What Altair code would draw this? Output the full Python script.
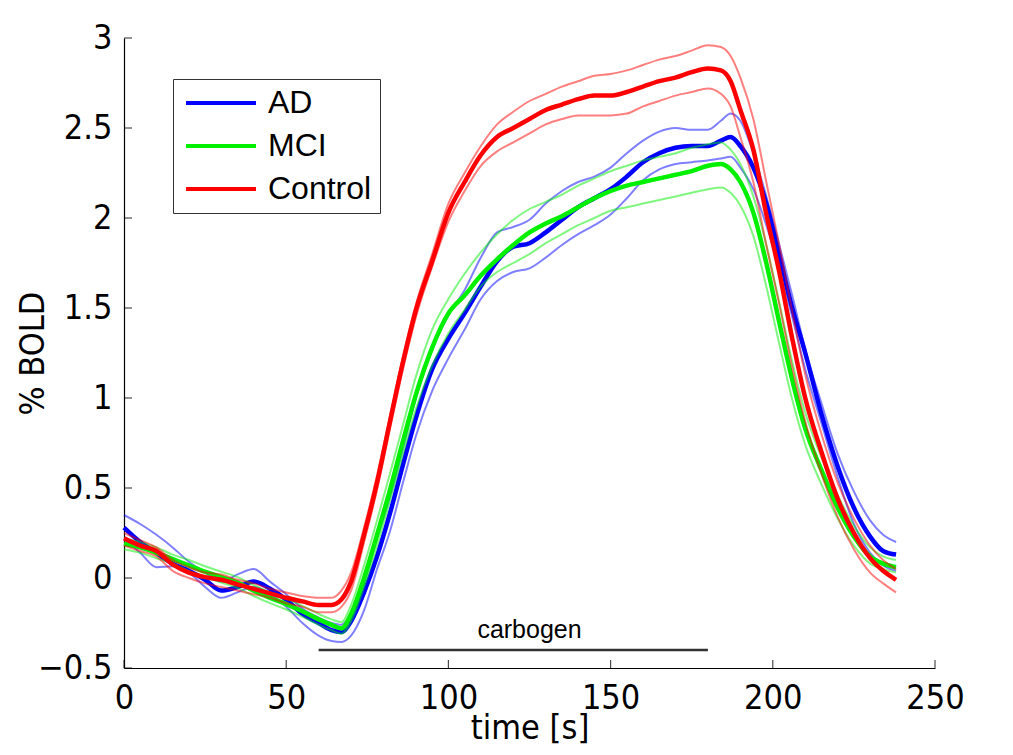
import altair as alt
import pandas as pd

# time grid (s)
T = [0, 5, 10, 15, 20, 25, 30, 35, 40, 45, 50, 55, 60,
     64, 67, 70, 74, 78, 82, 86, 90,
     95, 100, 105, 110, 115, 120, 125, 130, 135, 140, 145, 150, 155, 160, 165, 170, 175, 180,
     184, 187, 190, 194, 198, 202, 206, 210,
     215, 220, 225, 230,
     234, 238]

AD_MEAN = [0.28, 0.20, 0.14, 0.08, 0.04, -0.01, -0.07, -0.05, -0.02, -0.06, -0.12, -0.20, -0.25,
           -0.29, -0.30, -0.24, -0.08, 0.12, 0.36, 0.63, 0.89,
           1.16, 1.33, 1.47, 1.62, 1.76, 1.84, 1.86, 1.92, 1.99, 2.06, 2.11, 2.16, 2.23, 2.31, 2.36, 2.39, 2.40, 2.40,
           2.43, 2.45, 2.40, 2.28, 2.08, 1.79, 1.50, 1.25,
           0.91, 0.62, 0.39, 0.23,
           0.15, 0.13]
AD_UP = [0.35, 0.30, 0.24, 0.17, 0.09, 0.03, -0.02, 0.02, 0.05, -0.02, -0.09, -0.17, -0.22,
         -0.25, -0.26, -0.20, -0.03, 0.22, 0.45, 0.72, 1.00,
         1.27, 1.46, 1.60, 1.78, 1.92, 1.95, 1.99, 2.08, 2.15, 2.20, 2.23, 2.28, 2.36, 2.43, 2.48, 2.50, 2.49, 2.49,
         2.54, 2.58, 2.54, 2.36, 2.12, 1.85, 1.57, 1.27,
         0.97, 0.69, 0.48, 0.32,
         0.24, 0.20]
AD_LO = [0.22, 0.14, 0.06, 0.065, 0.03, -0.05, -0.11, -0.08, -0.05, -0.09, -0.16, -0.25, -0.32,
         -0.35, -0.355, -0.32, -0.18, 0.05, 0.26, 0.53, 0.79,
         1.04, 1.22, 1.38, 1.55, 1.65, 1.70, 1.72, 1.78, 1.85, 1.91, 1.96, 2.02, 2.11, 2.21, 2.27, 2.30, 2.31, 2.32,
         2.33, 2.34, 2.28, 2.16, 1.96, 1.72, 1.45, 1.16,
         0.86, 0.56, 0.30, 0.14,
         0.07, 0.04]

MCI_MEAN = [0.19, 0.17, 0.14, 0.105, 0.07, 0.035, 0.005, -0.025, -0.07, -0.11, -0.145, -0.185, -0.23,
            -0.26, -0.28, -0.20, 0.00, 0.24, 0.49, 0.76, 1.02,
            1.28, 1.47, 1.57, 1.68, 1.77, 1.85, 1.92, 1.97, 2.01, 2.06, 2.11, 2.15, 2.18, 2.20, 2.22, 2.24, 2.26, 2.29,
            2.30, 2.27, 2.20, 2.03, 1.75, 1.42, 1.10, 0.83,
            0.60, 0.39, 0.23, 0.12,
            0.08, 0.06]
MCI_UP = [0.22, 0.20, 0.17, 0.13, 0.10, 0.065, 0.035, 0.005, -0.04, -0.08, -0.115, -0.155, -0.20,
          -0.23, -0.245, -0.15, 0.07, 0.32, 0.58, 0.85, 1.12,
          1.38, 1.55, 1.69, 1.81, 1.91, 1.99, 2.05, 2.09, 2.13, 2.18, 2.22, 2.26, 2.29, 2.32, 2.34, 2.36, 2.39, 2.41,
          2.42, 2.38, 2.30, 2.12, 1.85, 1.53, 1.20, 0.92,
          0.67, 0.46, 0.29, 0.17,
          0.12, 0.10]
MCI_LO = [0.16, 0.14, 0.11, 0.08, 0.04, 0.005, -0.025, -0.055, -0.10, -0.14, -0.175, -0.215, -0.26,
          -0.29, -0.31, -0.24, -0.05, 0.18, 0.43, 0.69, 0.94,
          1.18, 1.36, 1.49, 1.62, 1.70, 1.75, 1.80, 1.86, 1.91, 1.96, 2.00, 2.04, 2.06, 2.08, 2.10, 2.12, 2.14, 2.16,
          2.17, 2.14, 2.07, 1.90, 1.62, 1.30, 0.99, 0.74,
          0.52, 0.33, 0.18, 0.08,
          0.05, 0.03]

CTRL_MEAN = [0.22, 0.18, 0.15, 0.075, 0.03, 0.005, -0.01, -0.035, -0.06, -0.085, -0.11, -0.13, -0.15,
             -0.15, -0.12, -0.02, 0.24, 0.53, 0.87, 1.20, 1.49,
             1.76, 2.03, 2.20, 2.35, 2.45, 2.50, 2.55, 2.60, 2.63, 2.66, 2.68, 2.68, 2.70, 2.73, 2.76, 2.78, 2.81, 2.83,
             2.82, 2.76, 2.60, 2.38, 2.02, 1.70, 1.33, 1.00,
             0.70, 0.44, 0.25, 0.11,
             0.04, -0.01]
CTRL_UP = [0.25, 0.21, 0.17, 0.10, 0.06, 0.03, 0.02, -0.01, -0.03, -0.06, -0.08, -0.10, -0.11,
           -0.11, -0.07, 0.03, 0.28, 0.57, 0.90, 1.23, 1.52,
           1.80, 2.08, 2.25, 2.40, 2.52, 2.59, 2.65, 2.69, 2.73, 2.76, 2.79, 2.80, 2.82, 2.85, 2.88, 2.90, 2.93, 2.96,
           2.95, 2.90, 2.78, 2.55, 2.20, 1.85, 1.48, 1.13,
           0.80, 0.53, 0.33, 0.18,
           0.10, 0.05]
CTRL_LO = [0.18, 0.15, 0.12, 0.04, 0.00, -0.03, -0.05, -0.07, -0.09, -0.11, -0.14, -0.16, -0.19,
           -0.19, -0.16, -0.07, 0.20, 0.49, 0.83, 1.16, 1.45,
           1.73, 1.98, 2.15, 2.29, 2.37, 2.42, 2.47, 2.52, 2.55, 2.57, 2.57, 2.57, 2.58, 2.62, 2.65, 2.68, 2.70, 2.72,
           2.69, 2.62, 2.45, 2.20, 1.85, 1.52, 1.17, 0.87,
           0.58, 0.34, 0.16, 0.03,
           -0.03, -0.08]

GROUPS = ["AD", "MCI", "Control"]
COLORS = ["#0000ff", "#00f000", "#ff0000"]
XTICKS = [0, 50, 100, 150, 200, 250]
YTICKS = [-0.5, 0, 0.5, 1, 1.5, 2, 2.5, 3]
CARB_T = [60]
CARB_T2 = [180]
CARB_V = [-0.4]
CARB_LABEL = ["carbogen"]
CARB_LABEL_T = [125]
CARB_LABEL_V = [-0.29]

SERIES = {
    "AD": (AD_MEAN, AD_UP, AD_LO),
    "MCI": (MCI_MEAN, MCI_UP, MCI_LO),
    "Control": (CTRL_MEAN, CTRL_UP, CTRL_LO),
}

rows = []
for g, arrs in SERIES.items():
    for kind, arr in zip(("mean", "upper", "lower"), arrs):
        assert len(arr) == len(T), (g, kind, len(arr))
        for t, v in zip(T, arr):
            rows.append({"t": t, "v": v, "group": g, "kind": kind, "series": g + "-" + kind})
df = pd.DataFrame(rows)

FONT = "DejaVu Sans Condensed, Liberation Sans, Arial, sans-serif"
SANS = "Liberation Sans, Arial, sans-serif"
xs = alt.Scale(domain=[0, 250], nice=False, zero=False)
ys = alt.Scale(domain=[-0.5, 3], nice=False, zero=False)
xaxis = alt.Axis(values=XTICKS, title="time [s]", format="d", labelPadding=13, labelFlush=False,
                 titleY=60, titleBaseline="middle")
yaxis = alt.Axis(values=YTICKS, title="% BOLD", format=".1~f", labelPadding=12, labelFlush=False,
                 titleX=-91, titleBaseline="middle")
X = alt.X("t:Q", scale=xs, axis=xaxis)
Y = alt.Y("v:Q", scale=ys, axis=yaxis)
color = alt.Color(
    "group:N",
    scale=alt.Scale(domain=GROUPS, range=COLORS),
    legend=alt.Legend(
        title=None, orient="none", legendX=49, legendY=41,
        symbolType="stroke", symbolSize=4900, symbolStrokeWidth=4, symbolOpacity=1,
        symbolOffset=3, clipHeight=32,
        labelFont=SANS, labelFontSize=32, labelOffset=10, labelColor="black",
        strokeColor="#333333", fillColor="white", padding=8, rowPadding=11,
    ),
)

layers = []
for g in GROUPS:
    sub = df[df.group == g]
    bounds = alt.Chart(sub[sub.kind != "mean"]).mark_line(
        strokeWidth=2, opacity=0.5, interpolate="monotone"
    ).encode(x=X, y=Y, color=color, detail="series:N")
    mean = alt.Chart(sub[sub.kind == "mean"]).mark_line(
        strokeWidth=4.5, interpolate="monotone"
    ).encode(x=X, y=Y, color=color)
    layers += [bounds, mean]

carb = alt.Chart(pd.DataFrame({"t": CARB_T, "t2": CARB_T2, "v": CARB_V})).mark_rule(
    strokeWidth=2.5, color="#333333"
).encode(x=X, x2="t2:Q", y=Y)
carb_txt = alt.Chart(pd.DataFrame({"t": CARB_LABEL_T, "v": CARB_LABEL_V, "label": CARB_LABEL})).mark_text(
    fontSize=25, font=SANS, color="black", align="center", baseline="middle"
).encode(x=X, y=Y, text="label:N")

xt = alt.Chart(pd.DataFrame({"t": XTICKS, "v": [-0.5] * len(XTICKS)})).mark_tick(
    orient="vertical", size=8, thickness=1.2, color="black", yOffset=-4
).encode(x=X, y=Y)
yt = alt.Chart(pd.DataFrame({"t": [0] * len(YTICKS), "v": YTICKS})).mark_tick(
    orient="horizontal", size=8, thickness=1.2, color="black", xOffset=4
).encode(x=X, y=Y)

chart = alt.layer(*layers, carb, carb_txt, xt, yt).properties(
    width=811, height=630,
    autosize=alt.AutoSizeParams(type="none"),
    padding={"left": 116, "top": 30, "right": 70, "bottom": 79},
    background="white",
).configure_view(stroke=None).configure_axis(
    grid=False, ticks=False, domainColor="black", domainWidth=1.2,
    labelFont=FONT, labelFontSize=34, labelColor="black",
    titleFont=FONT, titleFontSize=34, titleFontWeight="normal", titleColor="black",
)

chart.save("out.html", embed_options={"renderer": "svg", "actions": False})
